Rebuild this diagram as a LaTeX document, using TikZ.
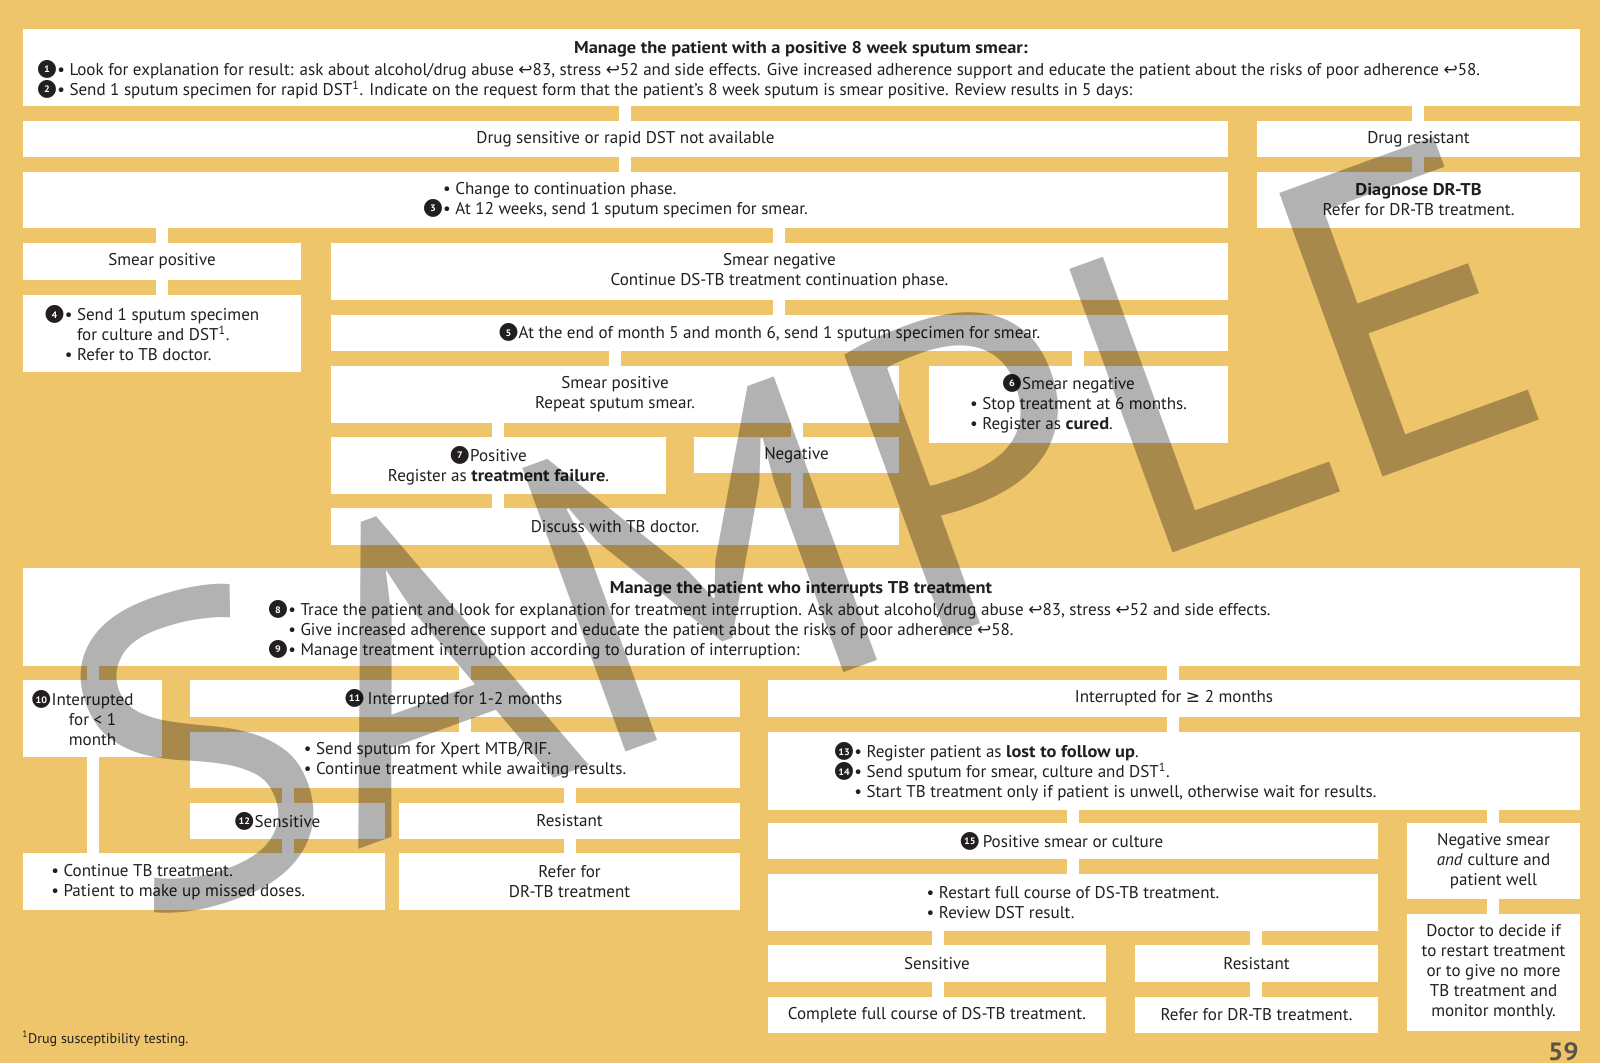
\documentclass[tikz,border=0pt]{standalone}
\usepackage{fontspec}
\setmainfont{PT Sans}[BoldFeatures={FakeStretch=1.08}]
\newfontfamily\symfont{DejaVu Sans}
\definecolor{page}{HTML}{EFC56C}
\definecolor{ink}{HTML}{231F20}
\definecolor{pagenum}{HTML}{5B5346}
% black disc with a white step number
\newsavebox\cnumdisc
\newsavebox\cnumdigit
\newcommand{\cnum}[1]{\begingroup%
\sbox\cnumdisc{\symfont\fontsize{15}{15}\selectfont\char"25CF}%
\sbox\cnumdigit{\fontsize{6}{6}\selectfont\bfseries\textcolor{white}{#1}}%
\leavevmode\rlap{\textcolor{ink}{\usebox\cnumdisc}}%
\hbox to\wd\cnumdisc{\hss\raise\dimexpr(\ht\cnumdisc-\dp\cnumdisc-\ht\cnumdigit)/2\relax\box\cnumdigit\hss}\endgroup}
\newcommand{\pref}{{\symfont\char"21A9}}
\newcommand{\gesym}{{\symfont\char"2265}}

\begin{document}
\begin{tikzpicture}[x=0.0225cm,y=-0.0225cm,
  txt/.style={text=ink,font=\fontsize{10.9}{12.8}\selectfont,inner sep=0pt},
  box/.style n args={4}{txt,fill=white,align=center,
    minimum width={(#3-#1)*0.0225cm},minimum height={(#4-#2)*0.0225cm},
    at={({(#1+#3)/2},{(#2+#4)/2})}},
  list/.style={txt,align=left},
  link/.style={white,line width=0.25cm},
  watermark/.style={text=black,opacity=0.3,rotate=20,font=\fontsize{276}{276}\selectfont}]
\useasboundingbox (0,0) rectangle (1600,1063);
\fill[page] (0,0) rectangle (1600,1063);

% positive 8 week smear
\node[box={23}{29}{1580}{106}] (top) {};
\node[txt,font=\fontsize{10.9}{12.8}\selectfont\bfseries] (topttl) at (801,49) {Manage the patient with a positive 8 week sputum smear:};
\node[list,anchor=west] (toplist) at (57,79.5) {\llap{\cnum{1}}• Look for explanation for result: ask about alcohol/drug abuse \pref83, stress \pref52 and side effects. Give increased adherence support and educate the patient about the risks of poor adherence \pref58.\\
\llap{\cnum{2}}• Send 1 sputum specimen for rapid DST\textsuperscript{1}. Indicate on the request form that the patient’s 8 week sputum is smear positive. Review results in 5 days:};

\node[box={23}{121}{1228}{157}] (drugs) {Drug sensitive or rapid DST not available};
\node[box={1257}{121}{1580}{157}] (drres) {Drug resistant};
\node[box={23}{172}{1228}{228},align=left] (change) {• Change to continuation phase.\\ \llap{\cnum{3}}• At 12 weeks, send 1 sputum specimen for smear.};
\node[box={1257}{172}{1580}{228}] (diag) {\textbf{Diagnose DR-TB}\\Refer for DR-TB treatment.};
\node[box={23}{243}{301}{280}] (smpos) {Smear positive};
\node[box={23}{295}{301}{372},align=left] (send) {\llap{\cnum{4}}• Send 1 sputum specimen\\ \phantom{•~}for culture and DST\textsuperscript{1}.\\ • Refer to TB doctor.};
\node[box={331}{243}{1228}{300}] (smneg) {Smear negative\\Continue DS-TB treatment continuation phase.};
\node[box={331}{315}{1228}{351}] (month) {\llap{\cnum{5}}At the end of month 5 and month 6, send 1 sputum specimen for smear.};
\node[box={331}{366}{899}{423}] (rep) {Smear positive\\Repeat sputum smear.};
\node[box={929}{366}{1228}{443}] (cured) {\begin{tabular}{@{}l@{}}\multicolumn{1}{@{}c@{}}{\llap{\cnum{6}}Smear negative}\\ • Stop treatment at 6 months.\\ • Register as \textbf{cured}.\end{tabular}};
\node[box={331}{437}{666}{494}] (fail) {\llap{\cnum{7}}Positive\\Register as \textbf{treatment failure}.};
\node[box={694}{437}{899}{473}] (neg) {Negative};
\node[box={331}{508}{899}{545}] (disc) {Discuss with TB doctor.};

% interrupted treatment
\node[box={23}{568}{1580}{666}] (intr) {};
\node[txt,font=\fontsize{10.9}{12.8}\selectfont\bfseries] (intrttl) at (801,589) {Manage the patient who interrupts TB treatment};
\node[list,anchor=west] (intrlist) at (288,630) {\llap{\cnum{8}}• Trace the patient and look for explanation for treatment interruption. Ask about alcohol/drug abuse \pref83, stress \pref52 and side effects.\\
• Give increased adherence support and educate the patient about the risks of poor adherence \pref58.\\
\llap{\cnum{9}}• Manage treatment interruption according to duration of interruption:};

\node[box={23}{680}{162}{757}] (lt1) {\llap{\cnum{10}}Interrupted\\for < 1\\month};
\node[box={190}{680}{740}{717}] (mo12) {\llap{\cnum{11}\,}Interrupted for 1-2 months};
\node[box={768}{680}{1580}{717}] (ge2) {Interrupted for \gesym\ 2 months};
\node[box={190}{732}{740}{788},align=left] (xpert) {• Send sputum for Xpert MTB/RIF.\\ • Continue treatment while awaiting results.};
\node[box={768}{732}{1580}{810}] (lost) {};
\node[list,anchor=west] (losttxt) at (854,772) {\llap{\cnum{13}}• Register patient as \textbf{lost to follow up}.\\
\llap{\cnum{14}}• Send sputum for smear, culture and DST\textsuperscript{1}.\\
• Start TB treatment only if patient is unwell, otherwise wait for results.};
\node[box={190}{803}{385}{839}] (sens) {\llap{\cnum{12}}Sensitive};
\node[box={399}{803}{740}{839}] (res) {Resistant};
\node[box={23}{853}{385}{910}] (cont) {};
\node[list,anchor=west] (conttxt) at (51,882.5) {• Continue TB treatment.\\ • Patient to make up missed doses.};
\node[box={399}{853}{740}{910}] (refdr) {Refer for\\DR-TB treatment};
\node[box={768}{823}{1378}{859}] (posc) {\llap{\cnum{15}\,}Positive smear or culture};
\node[box={1407}{823}{1580}{899}] (negw) {Negative smear\\\textit{and} culture and\\patient well};
\node[box={768}{874}{1378}{931},align=left] (restart) {• Restart full course of DS-TB treatment.\\ • Review DST result.};
\node[box={1407}{914}{1580}{1031}] (doctor) {Doctor to decide if\\to restart treatment\\or to give no more\\TB treatment and\\monitor monthly.};
\node[box={768}{945}{1106}{982}] (sens2) {Sensitive};
\node[box={1135}{945}{1378}{982}] (res2) {Resistant};
\node[box={768}{997}{1106}{1033}] (compl) {Complete full course of DS-TB treatment.};
\node[box={1135}{997}{1378}{1033}] (ref2) {Refer for DR-TB treatment.};

% white connector bars
\draw[link] (top.south -| 625,0) -- (drugs.north -| 625,0);
\draw[link] (top.south -| 1418,0) -- (drres.north -| 1418,0);
\draw[link] (drugs.south -| 625,0) -- (change.north -| 625,0);
\draw[link] (drres.south -| 1418,0) -- (diag.north -| 1418,0);
\draw[link] (change.south -| 162,0) -- (smpos.north -| 162,0);
\draw[link] (change.south -| 779,0) -- (smneg.north -| 779,0);
\draw[link] (smpos.south -| 162,0) -- (send.north -| 162,0);
\draw[link] (smneg.south -| 779,0) -- (month.north -| 779,0);
\draw[link] (month.south -| 615,0) -- (rep.north -| 615,0);
\draw[link] (month.south -| 1078,0) -- (cured.north -| 1078,0);
\draw[link] (rep.south -| 498,0) -- (fail.north -| 498,0);
\draw[link] (rep.south -| 797,0) -- (neg.north -| 797,0);
\draw[link] (fail.south -| 498,0) -- (disc.north -| 498,0);
\draw[link] (neg.south -| 797,0) -- (disc.north -| 797,0);
\draw[link] (intr.south -| 93,0) -- (lt1.north -| 93,0);
\draw[link] (intr.south -| 465,0) -- (mo12.north -| 465,0);
\draw[link] (intr.south -| 1173,0) -- (ge2.north -| 1173,0);
\draw[link] (mo12.south -| 465,0) -- (xpert.north -| 465,0);
\draw[link] (ge2.south -| 1173,0) -- (lost.north -| 1173,0);
\draw[link] (lt1.south -| 93,0) -- (cont.north -| 93,0);
\draw[link] (xpert.south -| 288,0) -- (sens.north -| 288,0);
\draw[link] (xpert.south -| 570,0) -- (res.north -| 570,0);
\draw[link] (sens.south -| 288,0) -- (cont.north -| 288,0);
\draw[link] (res.south -| 570,0) -- (refdr.north -| 570,0);
\draw[link] (lost.south -| 1073,0) -- (posc.north -| 1073,0);
\draw[link] (lost.south -| 1493,0) -- (negw.north -| 1493,0);
\draw[link] (posc.south -| 1073,0) -- (restart.north -| 1073,0);
\draw[link] (negw.south -| 1493,0) -- (doctor.north -| 1493,0);
\draw[link] (restart.south -| 938,0) -- (sens2.north -| 938,0);
\draw[link] (restart.south -| 1256,0) -- (res2.north -| 1256,0);
\draw[link] (sens2.south -| 938,0) -- (compl.north -| 938,0);
\draw[link] (res2.south -| 1256,0) -- (ref2.north -| 1256,0);

\node[txt,anchor=west,font=\fontsize{9}{11}\selectfont] (foot) at (22,1039) {\textsuperscript{1}Drug susceptibility testing.};
\node[txt,anchor=east,text=pagenum,font=\fontsize{16}{18}\selectfont\bfseries] (pageno) at (1579,1052) {59};

\node[watermark] (sample) at (801,528) {SAMPLE};
\end{tikzpicture}
\end{document}
